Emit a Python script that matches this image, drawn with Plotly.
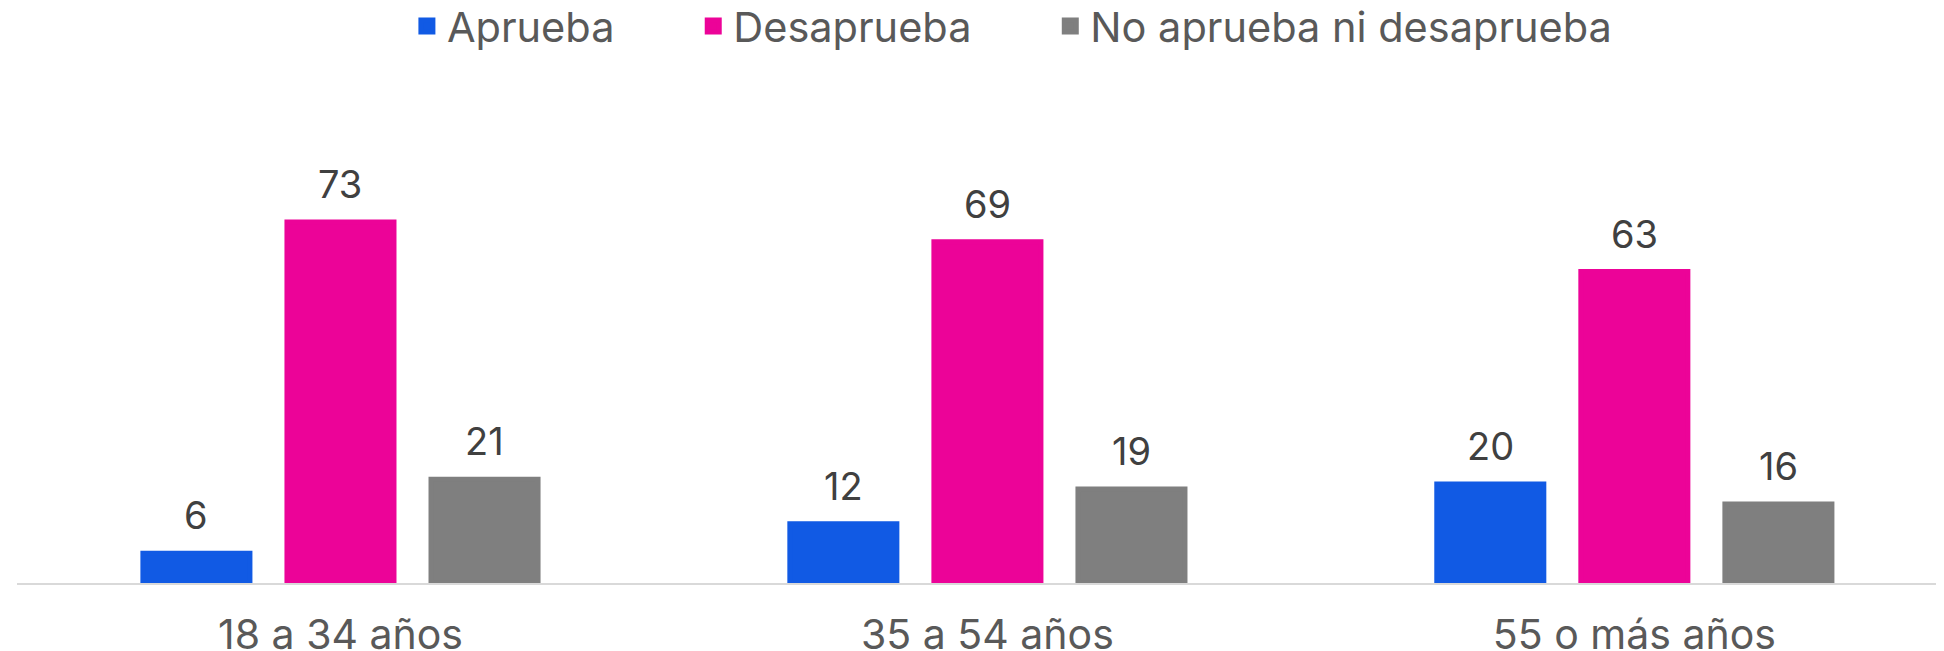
import plotly.graph_objects as go

categories = ["18 a 34 años", "35 a 54 años", "55 o más años"]
series_names = ["Aprueba", "Desaprueba", "No aprueba ni desaprueba"]
aprueba = [6, 12, 20]
desaprueba = [73, 69, 63]
neutral = [21, 19, 16]
colors = ["#115AE4", "#EC0398", "#7F7F7F"]

values = [aprueba, desaprueba, neutral]
PAD = "\u00a0" * 6 + "\u200a"
BARGAP = 0.332
PITCH = (1 - BARGAP) / len(values)

fig = go.Figure()
for name, vals, col in zip(series_names, values, colors):
    fig.add_trace(go.Bar(
        x=categories, y=vals, name=name + PAD,
        marker=dict(color=col, line=dict(width=5, color=col)),
        cliponaxis=False,
    ))

annotations = []
for k, vals in enumerate(values):
    for i, v in enumerate(vals):
        annotations.append(dict(
            x=i + (k - (len(values) - 1) / 2) * PITCH, y=v,
            xref="x", yref="y", text=str(v), showarrow=False,
            yanchor="middle", yshift=38,
            font=dict(family="Inter", size=38, color="#404040"),
        ))

fig.update_layout(
    width=1944, height=651,
    paper_bgcolor="white", plot_bgcolor="white",
    margin=dict(l=9, r=0, t=100, b=71),
    barmode="group", bargap=BARGAP, bargroupgap=0.257,
    font=dict(family="Inter", color="#595959"),
    showlegend=True,
    legend=dict(
        orientation="h", xref="container", x=0.2052, xanchor="left",
        yref="container", y=0.9723, yanchor="middle",
        font=dict(family="Inter", size=41.5, color="#595959"),
        traceorder="normal",
    ),
    annotations=annotations,
    xaxis=dict(
        type="category", range=[-0.5, 2.491],
        showline=True, linecolor="#D9D9D9", linewidth=2,
        showgrid=False, zeroline=False, ticks="",
        tickfont=dict(family="Inter", size=41, color="#595959"),
        ticklabelstandoff=15,
    ),
    yaxis=dict(
        range=[0, 96.07], showticklabels=False, showgrid=False,
        zeroline=False, showline=False, ticks="",
    ),
)

fig.write_html("out.html")
